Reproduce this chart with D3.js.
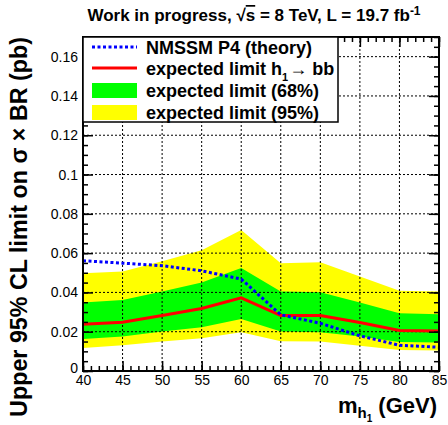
<!DOCTYPE html>
<html><head><meta charset="utf-8">
<script src="https://cdn.jsdelivr.net/npm/d3@7"></script>
<style>
body{margin:0;background:#fff;}
text{font-family:"Liberation Sans",Arial,Helvetica,sans-serif;}
</style>
</head><body>
<svg id="c" width="448" height="425"></svg>
<script>
// ---- data ----
const masses      = [40, 45, 50, 55, 60, 65, 70, 75, 80, 85];
const expected    = [0.0238, 0.0248, 0.0282, 0.0318, 0.0372, 0.0282, 0.0282, 0.0247, 0.0206, 0.0204];
const band68Low   = [0.0163, 0.0175, 0.0201, 0.0223, 0.0265, 0.0201, 0.0197, 0.0175, 0.0148, 0.0145];
const band68High  = [0.0349, 0.0362, 0.0405, 0.0451, 0.0524, 0.0405, 0.0401, 0.0349, 0.0294, 0.0289];
const band95Low   = [0.0117, 0.0131, 0.0150, 0.0167, 0.0197, 0.0151, 0.0150, 0.0128, 0.0107, 0.0104];
const band95High  = [0.0498, 0.0507, 0.0558, 0.0614, 0.0718, 0.0549, 0.0553, 0.0481, 0.0408, 0.0405];
const theory      = [0.0561, 0.0549, 0.0536, 0.0510, 0.0468, 0.0286, 0.0243, 0.0179, 0.0131, 0.0121];
const xTicks      = [40, 45, 50, 55, 60, 65, 70, 75, 80, 85];
const yTicks      = [0, 0.02, 0.04, 0.06, 0.08, 0.1, 0.12, 0.14, 0.16];
const yTickLabels = ["0", "0.02", "0.04", "0.06", "0.08", "0.1", "0.12", "0.14", "0.16"];
const legendLabels = ["NMSSM P4 (theory)", "expected limit h", "expected limit (68%)", "expected limit (95%)"];

const svg = d3.select("#c");
const L = 83, R = 439, T = 37, B = 371;
const x = d3.scaleLinear().domain([40, 85]).range([L, R]);
const y = d3.scaleLinear().domain([0, 0.17]).range([B, T]);

const pts = masses.map((m, i) => ({m, e: expected[i], l68: band68Low[i], h68: band68High[i], l95: band95Low[i], h95: band95High[i], t: theory[i]}));

const plot = svg.append("g");
// bands
plot.append("path").datum(pts)
  .attr("d", d3.area().x(d => x(d.m)).y0(d => y(d.l95)).y1(d => y(d.h95)))
  .attr("fill", "#ffff00");
plot.append("path").datum(pts)
  .attr("d", d3.area().x(d => x(d.m)).y0(d => y(d.l68)).y1(d => y(d.h68)))
  .attr("fill", "#00ff00");

// grid
const grid = svg.append("g").attr("stroke", "#000").attr("stroke-width", 1).attr("stroke-dasharray", "2,2");
xTicks.filter(v => v > 40 && v < 85).forEach(v => {
  grid.append("line").attr("x1", x(v)).attr("x2", x(v)).attr("y1", B).attr("y2", T);
});
yTicks.filter(v => v > 0).forEach(v => {
  grid.append("line").attr("x1", L).attr("x2", R).attr("y1", y(v)).attr("y2", y(v));
});

// lines
svg.append("path").datum(pts).attr("d", d3.line().x(d => x(d.m)).y(d => y(d.e)))
  .attr("fill", "none").attr("stroke", "#ff0000").attr("stroke-width", 3);
svg.append("path").datum(pts).attr("d", d3.line().x(d => x(d.m)).y(d => y(d.t)))
  .attr("fill", "none").attr("stroke", "#0000ff").attr("stroke-width", 3).attr("stroke-dasharray", "3,2.5");

// axes (inward ticks)
const minorX = d3.range(40, 85.01, 1);
const minorY = d3.range(0, 0.1701, 0.005);
function axes() {
  const g = svg.append("g");
  g.append("g").attr("transform", `translate(0,${B})`)
    .call(d3.axisBottom(x).tickValues(xTicks).tickSize(-10).tickPadding(4).tickFormat(d3.format("d")));
  g.append("g").attr("transform", `translate(0,${B})`)
    .call(d3.axisBottom(x).tickValues(minorX).tickSize(-5).tickFormat(""));
  g.append("g").attr("transform", `translate(0,${T})`)
    .call(d3.axisTop(x).tickValues(xTicks).tickSize(-10).tickFormat(""));
  g.append("g").attr("transform", `translate(0,${T})`)
    .call(d3.axisTop(x).tickValues(minorX).tickSize(-5).tickFormat(""));
  const ly = g.append("g").attr("transform", `translate(${L},0)`)
    .call(d3.axisLeft(y).tickValues(yTicks).tickSize(-10).tickPadding(5).tickFormat((d, i) => yTickLabels[i]));
  ly.selectAll(".tick text").filter(d => d === 0).attr("dy", "0.1em");
  g.append("g").attr("transform", `translate(${L},0)`)
    .call(d3.axisLeft(y).tickValues(minorY).tickSize(-5).tickFormat(""));
  g.append("g").attr("transform", `translate(${R},0)`)
    .call(d3.axisRight(y).tickValues(yTicks).tickSize(-10).tickFormat(""));
  g.append("g").attr("transform", `translate(${R},0)`)
    .call(d3.axisRight(y).tickValues(minorY).tickSize(-5).tickFormat(""));
  g.selectAll(".domain").remove();
  g.selectAll(".tick line").attr("stroke", "#000").attr("stroke-width", 1.5);
  g.selectAll(".tick text").attr("font-size", 14).attr("fill", "#000")
    .attr("font-family", "'Liberation Sans',Arial,sans-serif");
}
axes();

// frame
svg.append("rect").attr("x", L).attr("y", T).attr("width", R - L).attr("height", B - T)
  .attr("fill", "none").attr("stroke", "#000").attr("stroke-width", 2);

// legend
const lg = svg.append("g");
lg.append("rect").attr("x", L).attr("y", T).attr("width", 255).attr("height", 85)
  .attr("fill", "#fff").attr("stroke", "#000").attr("stroke-width", 1.5);
const sx0 = 92, sx1 = 137, tx = 146;
const rows = [47, 68, 90.5, 112.5];
lg.append("line").attr("x1", sx0).attr("x2", sx1).attr("y1", rows[0]).attr("y2", rows[0])
  .attr("stroke", "#0000ff").attr("stroke-width", 3).attr("stroke-dasharray", "3,2.5");
lg.append("line").attr("x1", sx0).attr("x2", sx1).attr("y1", rows[1]).attr("y2", rows[1])
  .attr("stroke", "#ff0000").attr("stroke-width", 3);
lg.append("rect").attr("x", sx0).attr("y", rows[2] - 7.5).attr("width", sx1 - sx0).attr("height", 15).attr("fill", "#00ff00");
lg.append("rect").attr("x", sx0).attr("y", rows[3] - 7.5).attr("width", sx1 - sx0).attr("height", 15).attr("fill", "#ffff00");
const lt = (i) => lg.append("text").attr("x", tx).attr("y", rows[i] + 6.5)
  .attr("font-size", 18).attr("font-weight", "bold").attr("fill", "#000");
lt(0).text(legendLabels[0]);
const t2 = lt(1);
t2.append("tspan").text(legendLabels[1]);
t2.append("tspan").attr("dy", 6).attr("font-size", 11).text("1");
t2.append("tspan").attr("dy", -6).attr("font-weight", "normal").attr("dx", 1).text("→");
t2.append("tspan").text(" bb");
lt(2).text(legendLabels[2]);
lt(3).text(legendLabels[3]);

// title
const title = svg.append("text").attr("x", 254).attr("y", 21).attr("text-anchor", "middle")
  .attr("font-size", 17).attr("font-weight", "bold").attr("fill", "#000");
title.append("tspan").text("Work in progress, ");
title.append("tspan").text("√");
title.append("tspan").style("text-decoration", "overline").text("s");
title.append("tspan").text(" = 8 TeV, L = 19.7 fb");
title.append("tspan").attr("dy", -6).attr("font-size", 12).text("-1");

// y title
svg.append("text").attr("transform", `translate(27,${T}) rotate(-90)`).attr("text-anchor", "end")
  .attr("font-size", 23.3).attr("font-weight", "bold").attr("fill", "#000")
  .text("Upper 95% CL limit on σ × BR (pb)");

// x title
const xt = svg.append("text").attr("x", 437).attr("y", 413).attr("text-anchor", "end")
  .attr("font-size", 22).attr("font-weight", "bold").attr("fill", "#000");
xt.append("tspan").text("m");
xt.append("tspan").attr("dy", 5).attr("font-size", 15).text("h");
xt.append("tspan").attr("dy", 4).attr("font-size", 10).text("1");
xt.append("tspan").attr("dy", -9).text(" (GeV)");
</script>
</body></html>
